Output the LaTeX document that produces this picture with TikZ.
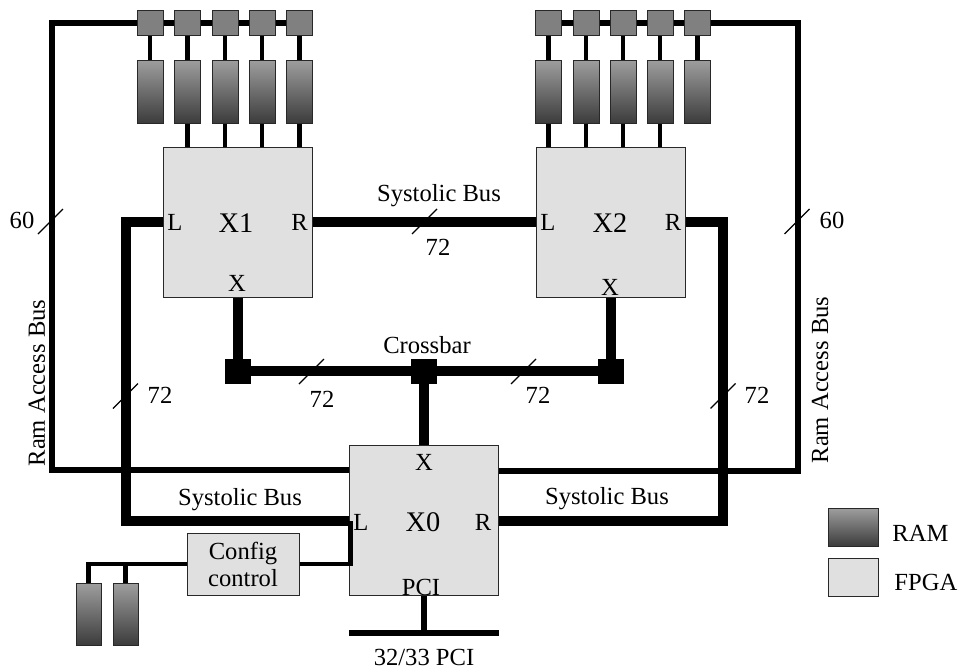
\documentclass[tikz,border=0pt]{standalone}
\usepackage{fontspec}
\setmainfont{Liberation Serif}
\usetikzlibrary{backgrounds,calc}
\definecolor{fpgafill}{RGB}{224,224,224}
\definecolor{ramtop}{RGB}{158,158,158}
\definecolor{rambot}{RGB}{60,60,60}
\definecolor{sqfill}{RGB}{128,128,128}
\definecolor{edge}{RGB}{40,40,40}
\begin{document}
\begin{tikzpicture}[x=0.5pt,y=-0.5pt,
  font=\fontsize{12.3}{14}\selectfont,
  fpga/.style={draw=edge,line width=0.5pt,fill=fpgafill,minimum width=74.5pt,minimum height=75pt,inner sep=0pt},
  ramstick/.style={draw=edge,line width=0.5pt,top color=ramtop,bottom color=rambot,minimum width=13pt,minimum height=31.5pt,inner sep=0pt},
  ramsq/.style={draw=edge,line width=0.5pt,fill=sqfill,minimum width=13pt,minimum height=12.5pt,inner sep=0pt},
  xsq/.style={fill=black,minimum width=13pt,minimum height=12.5pt,inner sep=0pt},
  cfgbox/.style={draw=edge,line width=0.5pt,fill=fpgafill,minimum width=56pt,minimum height=31pt,inner sep=0pt,align=center,font=\fontsize{12.3}{13.5}\selectfont},
  rambus/.style={line width=3pt},
  sysbus/.style={line width=5pt},
  conn/.style={line width=2.2pt},
  pcibus/.style={line width=3pt},
  slash/.style={line width=0.6pt},
  big/.style={font=\fontsize{14.2}{16}\selectfont},
  lbl/.style={inner sep=0pt}
]
\useasboundingbox (0,0) rectangle (959,669);

% FPGAs
\node[fpga] (X1) at (237.5,222) {};
\node[fpga] (X2) at (610.5,222) {};
\node[fpga] (X0) at (424,520.5) {};
\node[cfgbox] (cfg) at (243,564) {Config\\control};

% RAM banks
\foreach \i/\x in {1/150,2/187.5,3/225,4/262,5/299.5}{
  \node[ramsq] (a\i) at (\x,22.5) {};
  \node[ramstick] (ak\i) at (\x,91.5) {};
}
\foreach \i/\x in {1/548.5,2/586,3/623,4/660,5/697.5}{
  \node[ramsq] (b\i) at (\x,22.5) {};
  \node[ramstick] (bk\i) at (\x,91.5) {};
}
\node[ramstick,minimum width=12.5pt,minimum height=31pt] (ck1) at (88.5,614) {};
\node[ramstick,minimum width=12.5pt,minimum height=31pt] (ck2) at (125.5,614) {};

% crossbar squares
\node[xsq] (c1) at (237.5,371) {};
\node[xsq] (c2) at (424,371) {};
\node[xsq] (c3) at (610.5,371) {};

% bend coordinates
\coordinate (rl) at (52,470);
\coordinate (rr) at (798,471);
\coordinate (sl) at (125.5,222);
\coordinate (sr) at (723,222);
\coordinate (pl) at (349,633);
\coordinate (pr) at (499,633);

\begin{scope}[on background layer]
  \draw[rambus] (a1.center) -- (a5.center);
  \draw[rambus] (b1.center) -- (b5.center);
  \draw[rambus] (X0.west |- rl) -- (rl) |- (a1.west);
  \draw[rambus] (X0.east |- rr) -- (rr) |- (b5.east);
  \foreach \i in {1,...,5}{
    \draw[conn] (a\i) -- (ak\i);
    \draw[conn] (b\i) -- (bk\i);
  }
  \foreach \i in {2,...,5}{\draw[conn] (ak\i.south) -- (ak\i.south |- X1.north);}
  \foreach \i in {1,...,4}{\draw[conn] (bk\i.south) -- (bk\i.south |- X2.north);}
  \draw[sysbus] (X1.west) -- (sl) |- (X0.west);
  \draw[sysbus] (X2.east) -- (sr) |- (X0.east);
  \draw[sysbus] (X1.east) -- (X2.west);
  \draw[sysbus] (X1.south) -- (c1.center) -- (c3.center) -- (X2.south);
  \draw[sysbus] (c2.center) -- (X0.north);
  \draw[pcibus] (X0.south) -- (X0.south |- pl);
  \draw[conn] (cfg.west) -| (ck1.north);
  \draw[conn] (ck2.north) -- (ck2.north |- cfg.west);
\end{scope}
\draw[pcibus] (pl) -- (pr);
\draw[conn] (cfg.east) -- ($(cfg.east -| X0.west)+(1.5,0)$) -- ($(X0.west)+(1.5,0)$);

% slashes
\foreach \sx/\sy in {50.5/221.5, 797/221.5, 424.5/221.5, 311.5/371.5, 523.5/371.5, 125.5/396, 723/396}{
  \draw[slash] (\sx,\sy) +(-12.5,12.5) -- +(12.5,-12.5);
}

% labels in FPGAs
\node[lbl] (x1l) at (175,222) {L};
\node[lbl,big] (x1n) at (236,223) {X1};
\node[lbl] (x1r) at (299.5,222) {R};
\node[lbl] (x1x) at (237,283) {X};
\node[lbl] (x2l) at (548,222) {L};
\node[lbl,big] (x2n) at (610,223) {X2};
\node[lbl] (x2r) at (673,222) {R};
\node[lbl] (x2x) at (610,287) {X};
\node[lbl] (x0l) at (361,522) {L};
\node[lbl,big] (x0n) at (423,522) {X0};
\node[lbl] (x0r) at (483,522) {R};
\node[lbl] (x0x) at (424,462) {X};
\node[lbl] (x0p) at (421,587) {PCI};

% other labels
\node[lbl] (l60a) at (22,220) {60};
\node[lbl] (l60b) at (832,220) {60};
\node[lbl] (l72a) at (438,247) {72};
\node[lbl] (l72b) at (322,399) {72};
\node[lbl] (l72c) at (538,395) {72};
\node[lbl] (l72d) at (160,395) {72};
\node[lbl] (l72e) at (757,395) {72};
\node[lbl] (sb1) at (439,196) {Systolic Bus};
\node[lbl] (sb2) at (240,500) {Systolic Bus};
\node[lbl] (sb3) at (607,499) {Systolic Bus};
\node[lbl] (cb) at (427,345) {Crossbar};
\node[lbl,rotate=90] (rab1) at (37,383) {Ram Access Bus};
\node[lbl,rotate=90] (rab2) at (820,380) {Ram Access Bus};
\node[lbl] (pcil) at (424,657) {32/33 PCI};

% legend
\node[ramstick,minimum width=25pt,minimum height=19pt] (lgram) at (853,527) {};
\node[fpga,minimum width=25pt,minimum height=19pt] (lgfpga) at (853,577) {};
\node[lbl,anchor=west] (lgramt) at (892,533) {RAM};
\node[lbl,anchor=west] (lgfpgat) at (894,582) {FPGA};
\end{tikzpicture}
\end{document}
